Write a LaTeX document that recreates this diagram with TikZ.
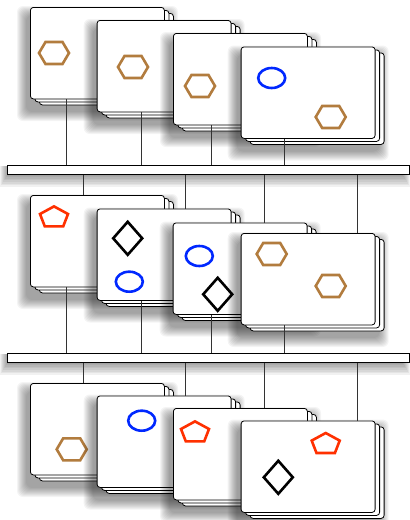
\documentclass[tikz,border=0pt]{standalone}
\usepackage{tikz}
\usetikzlibrary{positioning, calc}
\usepackage{xcolor}

\definecolor{hexbrown}{RGB}{178,124,62}
\definecolor{pentred}{RGB}{255,48,0}
\definecolor{ovalblue}{RGB}{0,40,255}

\tikzset{
  card/.style={draw, fill=white, rounded corners=3pt, line width=0.8pt,
    minimum width=134pt, minimum height=91.5pt, inner sep=0pt, anchor=north west},
  bus/.style={draw, fill=white, line width=0.8pt,
    minimum width=402pt, minimum height=9.3pt, inner sep=0pt, anchor=north west},
  link/.style={black!80, line width=0.7pt},
  mark line/.style={line width=2.6pt},
  hexa/.pic={\draw[hexbrown, mark line] (-15,0) -- (-8.5,-11) -- (8.5,-11) -- (15,0) -- (8.5,11) -- (-8.5,11) -- cycle;},
  penta/.pic={\draw[pentred, mark line] (0,-10.3) -- (14,-2.7) -- (9.2,9.7) -- (-9.2,9.7) -- (-14,-2.7) -- cycle;},
  rhomb/.pic={\draw[black, mark line] (0,-16.5) -- (14.5,0) -- (0,16.5) -- (-14.5,0) -- cycle;},
  oval/.pic={\draw[ovalblue, mark line] (0,0) ellipse [x radius=13.5, y radius=10];}
}

% one stack of cards: name, left, top
\newcommand{\deck}[3]{%
  \foreach \s in {1,...,10}
    \fill[black, opacity=0.045, rounded corners=6pt] (#2-3-\s,#3+9-\s) rectangle (#2+138+\s,#3+104+\s);
  \node[card] at (#2+9,#3+6) {};
  \node[card] at (#2+4.5,#3+3) {};
  \node[card] (#1) at (#2,#3) {};
}
\newcommand{\busbar}[2]{%
  \foreach \s in {1,...,8}
    \fill[black, opacity=0.055] (8-\s,#2+1) rectangle (402+\s,#2+9+\s*1.6);
  \node[bus] (#1) at (7,#2) {};
}

\begin{document}
\begin{tikzpicture}[x=1pt, y=-1pt]
\useasboundingbox (0,0) rectangle (410,520);

\coordinate (p1) at (66,0);   \coordinate (p2) at (141.7,0);
\coordinate (p3) at (211,0);  \coordinate (p4) at (284,0);
\coordinate (q1) at (83.3,0); \coordinate (q2) at (185.7,0);
\coordinate (q3) at (264.3,0);\coordinate (q4) at (357.3,0);

% top row
\deck{a1}{30}{7}     \pic at (54,53) {hexa};
\deck{a2}{96.7}{20}  \pic at (133,67) {hexa};
\deck{a3}{173}{33}   \pic at (200,86) {hexa};
\deck{a4}{240.7}{46.5}
\pic at (271.7,78) {oval};
\pic at (330.7,117) {hexa};

\busbar{bus1}{165}
\foreach \i in {1,...,4}
  \draw[link] (a\i.south -| p\i) -- (bus1.north -| p\i);

% middle row
\deck{b1}{30}{195}      \pic at (54,216.7) {penta};
\deck{b2}{96.7}{208.5}
\pic at (127.7,238.3) {rhomb};
\pic at (129.3,281.7) {oval};
\deck{b3}{172.7}{222.5}
\pic at (199.3,256) {oval};
\pic at (217.7,294.3) {rhomb};
\deck{b4}{240.7}{233}
\pic at (271.7,254) {hexa};
\pic at (330.7,286) {hexa};

\foreach \i in {1,...,4}
  \draw[link] (bus1.south -| q\i) -- (b\i.north -| q\i);

\busbar{bus2}{353}
\foreach \i in {1,...,4}
  \draw[link] (b\i.south -| p\i) -- (bus2.north -| p\i);

% bottom row
\deck{c1}{30}{383}      \pic at (71.7,449.3) {hexa};
\deck{c2}{96.7}{395.5}  \pic at (141.7,420.7) {oval};
\deck{c3}{173}{408}     \pic at (195,431.7) {penta};
\deck{c4}{240.7}{420.5}
\pic at (325.7,443.3) {penta};
\pic at (278.3,477.3) {rhomb};

\foreach \i in {1,...,4}
  \draw[link] (bus2.south -| q\i) -- (c\i.north -| q\i);
\end{tikzpicture}
\end{document}
